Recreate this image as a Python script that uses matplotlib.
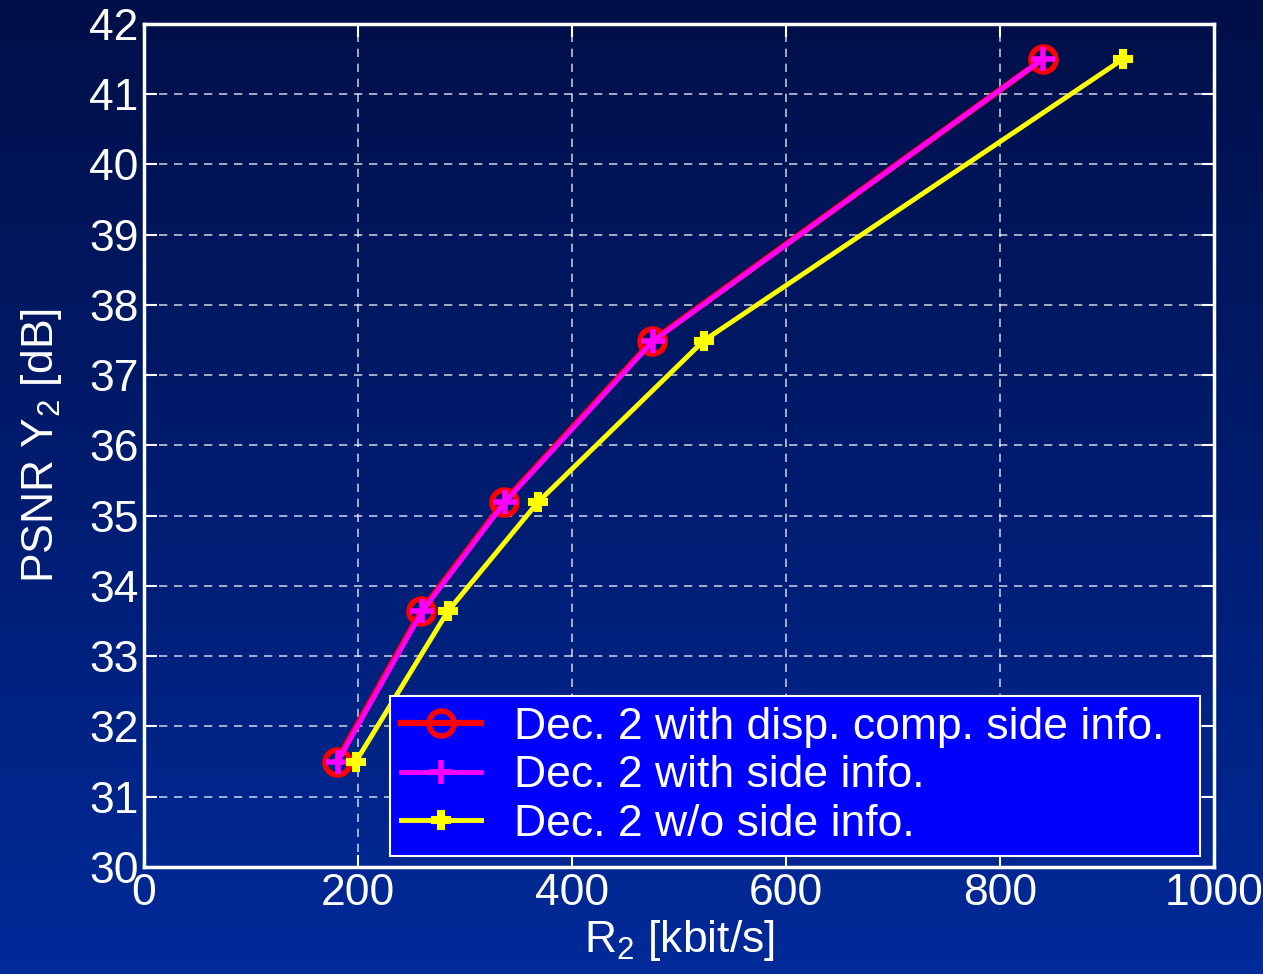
import numpy as np
import matplotlib
matplotlib.use('Agg')
import matplotlib.pyplot as plt
from matplotlib.colors import LinearSegmentedColormap

plt.rcParams['font.family'] = ['Liberation Sans', 'DejaVu Sans']
plt.rcParams['mathtext.fontset'] = 'custom'
plt.rcParams['mathtext.rm'] = 'Liberation Sans'
plt.rcParams['mathtext.it'] = 'Liberation Sans'

# rate [kbit/s] and PSNR [dB]
rate_disp = [180, 259, 336, 475, 840]
rate_side = [181, 260, 337, 476, 840]
rate_none = [198, 284, 368, 523, 915]
psnr_disp = [31.5, 33.64, 35.19, 37.49, 41.5]
psnr_side = [31.5, 33.64, 35.19, 37.49, 41.5]
psnr_none = [31.5, 33.64, 35.19, 37.49, 41.5]

labels = ['Dec. 2 with disp. comp. side info.',
          'Dec. 2 with side info.',
          'Dec. 2 w/o side info.']

fig = plt.figure(figsize=(12.63, 9.74), dpi=100)

# background gradient (dark navy top -> brighter blue bottom)
bg = fig.add_axes([0, 0, 1, 1], zorder=-1)
cmap = LinearSegmentedColormap.from_list('bg', ['#000f48', '#001c70', '#002a9a'])
grad = np.linspace(0, 1, 256).reshape(-1, 1)
bg.imshow(grad, aspect='auto', cmap=cmap, extent=[0, 1, 0, 1], origin='upper')
bg.axis('off')

ax = fig.add_axes([0.114, 0.1099, 0.8472, 0.8655])
ax.set_facecolor('none')

ax.plot(rate_disp, psnr_disp, '-o', color='#ff0000', lw=4.5, ms=18,
        mfc='none', mew=4, label=labels[0])
ax.plot(rate_side, psnr_side, '-+', color='#ff00ff', lw=3.5, ms=17,
        mew=4, label=labels[1])
ax.plot(rate_none, psnr_none, '-P', color='#ffff00', lw=3.5, ms=13,
        mew=1.5, label=labels[2])

ax.set_xlim(0, 1000)
ax.set_ylim(30, 42)
ax.set_xticks(np.arange(0, 1001, 200))
ax.set_yticks(np.arange(30, 43, 1))

ax.grid(True, color='white', ls=(0, (5, 4)), lw=1.2, alpha=0.75)
for s in ax.spines.values():
    s.set_color('white')
    s.set_linewidth(2.5)
ax.tick_params(colors='white', direction='in', length=9, width=1.5,
               labelsize=32, top=True, right=True, pad=4)

ax.set_xlabel('R$_2$ [kbit/s]', color='white', fontsize=32, labelpad=3)
ax.set_ylabel('PSNR Y$_2$ [dB]', color='white', fontsize=32, labelpad=18)

leg = ax.legend(loc='lower left', mode='expand', fontsize=32,
                facecolor='#0000ff', edgecolor='white', framealpha=1,
                fancybox=False, handlelength=1.8, handletextpad=0.75,
                labelspacing=0.17, borderpad=0.25, borderaxespad=0,
                bbox_to_anchor=(0.2299, 0.013, 0.757, 0.1))
leg.get_frame().set_linewidth(1.5)
for t in leg.get_texts():
    t.set_color('white')

fig.savefig('out.png', dpi=100)
